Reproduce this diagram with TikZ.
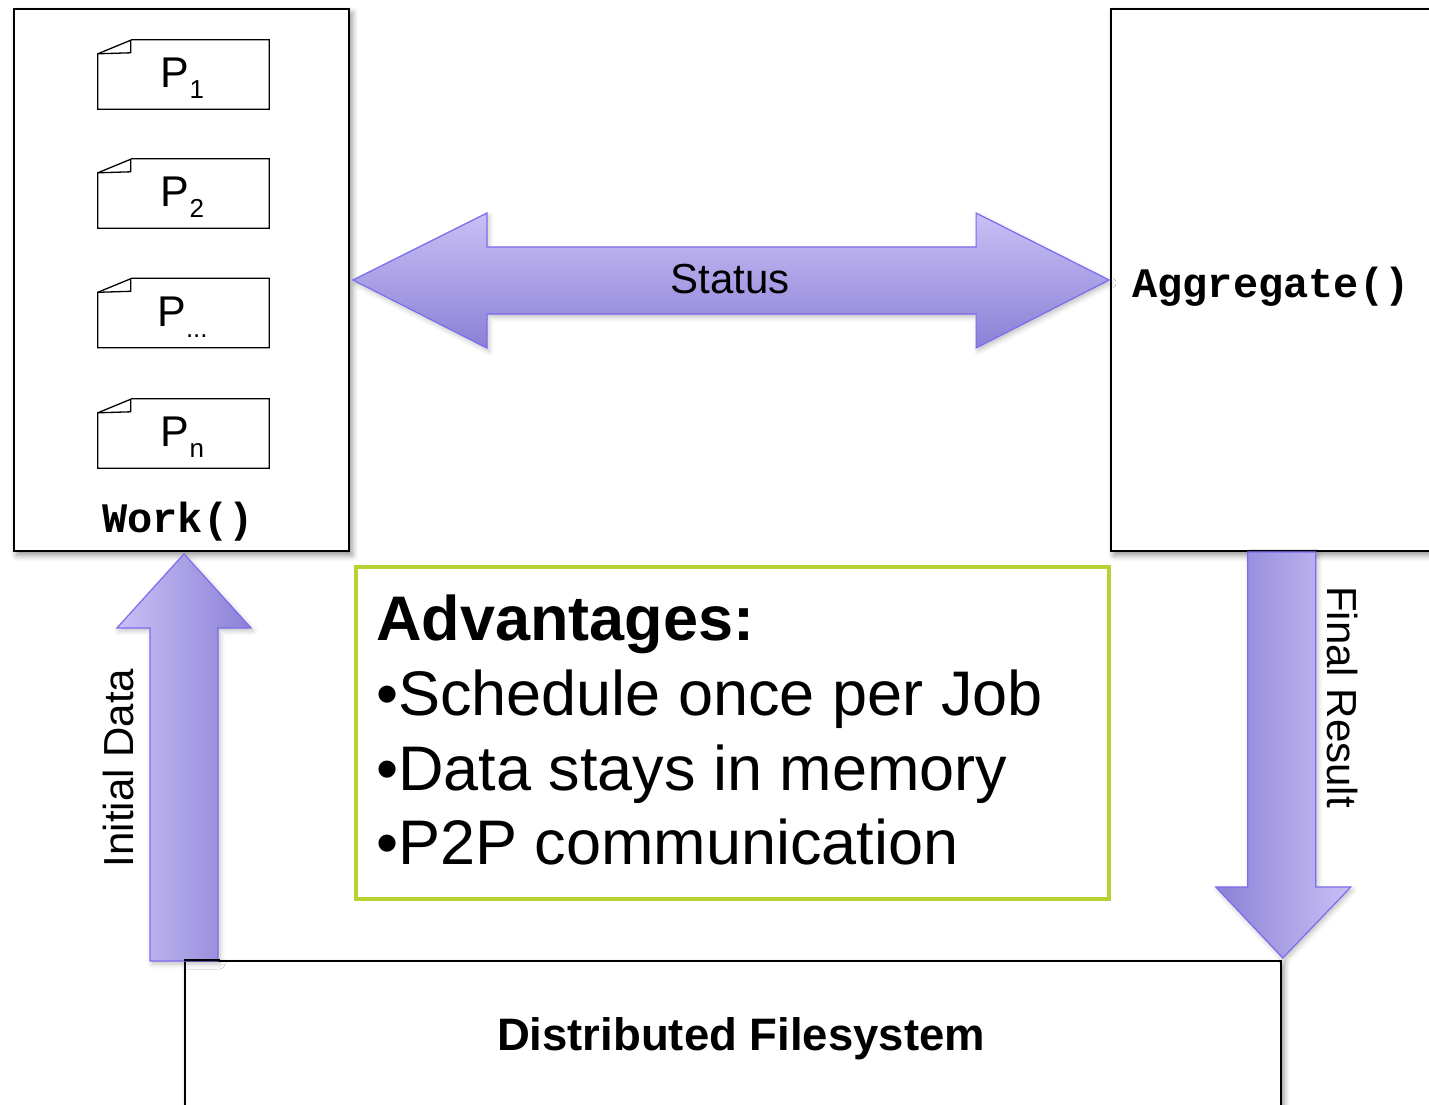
\documentclass[tikz,border=0pt]{standalone}
\usepackage{fontspec}
\setmainfont{Liberation Sans}
\newfontfamily\codefont{Liberation Mono}
\usetikzlibrary{calc,shadows.blur}
\definecolor{arrowlight}{RGB}{200,192,245}
\definecolor{arrowdark}{RGB}{140,128,214}
\definecolor{arrowedge}{RGB}{122,108,240}
\definecolor{advgreen}{RGB}{184,210,52}
\newcommand\Psub[1]{\raisebox{-11pt}{\fontsize{26}{26}\selectfont #1}}
\begin{document}
\begin{tikzpicture}[x=1pt,y=-1pt,
  box/.style={draw=black,line width=1.8pt,fill=white,inner sep=0pt,
    blur shadow={shadow xshift=3pt,shadow yshift=-4pt,shadow blur radius=6pt,shadow opacity=45}},
  pbox/.style={minimum width=171pt,minimum height=69pt,inner sep=0pt},
  pline/.style={draw=black,line width=1.3pt,fill=white},
  plabel/.style={anchor=base,inner sep=0pt,font=\fontsize{43}{43}\selectfont},
  bigarrow/.style={draw=arrowedge,line width=1.2pt,line join=miter,
    blur shadow={shadow xshift=2pt,shadow yshift=-3pt,shadow blur radius=5pt,shadow opacity=25}},
  code/.style={anchor=base,inner sep=0pt,font=\codefont\bfseries\fontsize{42}{42}\selectfont},
  lbl/.style={inner sep=0pt,font=\fontsize{42}{42}\selectfont},
  advtext/.style={anchor=base west,inner sep=0pt,font=\fontsize{63}{63}\selectfont}]
\useasboundingbox (0,0) rectangle (1429,1105);

% main boxes
\node[box,minimum width=335pt,minimum height=542pt] (work) at (181.5,280) {};
\node[box,minimum width=340pt,minimum height=542pt] (agg) at (1281,280) {};
\node[box,minimum width=1096pt,minimum height=170pt,anchor=north west] (dfs) at (184,960) {};

% process boxes
\node[pbox] (p1) at (183.5,74.5) {};
\node[pbox] (p2) at (183.5,193.5) {};
\node[pbox] (p3) at (183.5,313) {};
\node[pbox] (p4) at (183.5,433.5) {};
\foreach \p in {p1,p2,p3,p4}{
  \draw[pline] (\p.south west) -- ($(\p.north west)+(0,14)$) -- ($(\p.north west)+(34,0)$)
     -- (\p.north east) -- (\p.south east) -- cycle;
  \draw[pline,fill=none] ($(\p.north west)+(0,14)$) -- ($(\p.north west)+(33,13)$) -- ($(\p.north west)+(33,1)$);
}
\node[plabel] (p1l) at ($(p1.north)+(-1,48)$) {P\Psub{1}};
\node[plabel] (p2l) at ($(p2.north)+(-1,48)$) {P\Psub{2}};
\node[plabel] (p3l) at ($(p3.north)+(-1,48)$) {P\Psub{...}};
\node[plabel] (p4l) at ($(p4.north)+(-1,48)$) {P\Psub{n}};

\node[code] (worklbl) at (178,532) {Work()};
\node[code] (agglbl) at (1271,297) {Aggregate()};
\node[anchor=base,inner sep=0pt,font=\bfseries\fontsize{45.5}{45.5}\selectfont] (dfslbl) at (741,1050) {Distributed Filesystem};

% status double arrow
\coordinate (sL) at ($(work.east)+(3,0)$);
\coordinate (sR) at ($(agg.west)+(-1,0)$);
\draw[bigarrow,top color=arrowlight,bottom color=arrowdark]
  (sL) -- ($(sL)+(134,-67)$) -- ($(sL)+(134,-33)$) -- ($(sR)+(-133,-33)$)
  -- ($(sR)+(-133,-67)$) -- (sR) -- ($(sR)+(-133,68)$) -- ($(sR)+(-133,34)$)
  -- ($(sL)+(134,34)$) -- ($(sL)+(134,68)$) -- cycle;
\node[lbl,anchor=base] (statuslbl) at (730,293) {Status};

% initial data arrow (up)
\coordinate (iT) at ($(work.south)+(2.5,2)$);
\coordinate (iB) at ($(iT |- dfs.north)+(0,1)$);
\draw[bigarrow,left color=arrowlight,right color=arrowdark]
  (iT) -- ($(iT)+(67,74)$) -- ($(iT)+(34,74)$) -- ($(iB)+(34,0)$)
  -- ($(iB)+(-34,0)$) -- ($(iT)+(-34,74)$) -- ($(iT)+(-67,74)$) -- cycle;
\node[lbl,rotate=90] (initlbl) at (118,768) {Initial Data};
\draw[black,line width=1.8pt] (dfs.north west) -- ($(iB)+(36,-1)$);

% final result arrow (down)
\coordinate (fT) at ($(dfs.north east)+(1,-2)$);
\coordinate (fS) at ($(fT |- agg.south)$);
\draw[bigarrow,left color=arrowdark,right color=arrowlight]
  ($(fS)+(-35,0)$) -- ($(fS)+(33,0)$) -- ($(fT)+(33,-71)$) -- ($(fT)+(68,-71)$)
  -- (fT) -- ($(fT)+(-67,-71)$) -- ($(fT)+(-35,-71)$) -- cycle;
\node[lbl,rotate=-90] (finallbl) at (1342,697) {Final Result};

% advantages box
\node[draw=advgreen,line width=3.5pt,fill=white,minimum width=753pt,minimum height=332pt,inner sep=0pt] (adv) at (732.5,733) {};
\node[advtext,font=\bfseries\fontsize{63}{63}\selectfont] (adv1) at (376,640) {Advantages:};
\node[advtext] (adv2) at (376,715) {•Schedule once per Job};
\node[advtext] (adv3) at (376,790) {•Data stays in memory};
\node[advtext] (adv4) at (376,864) {•P2P communication};
\end{tikzpicture}
\end{document}
